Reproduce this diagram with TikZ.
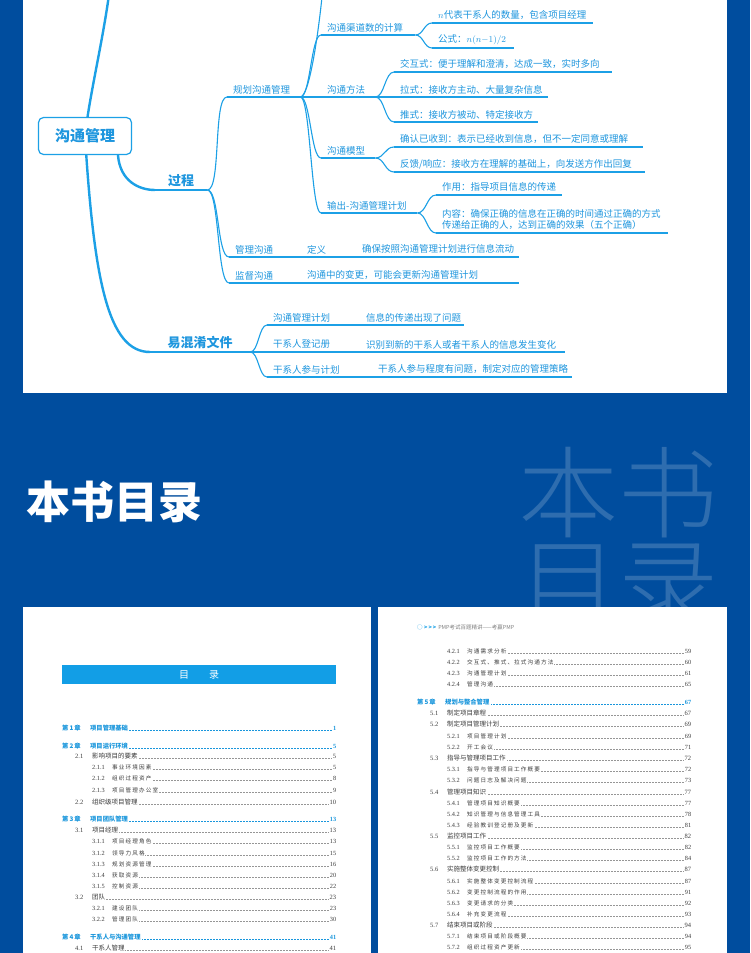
\documentclass[tikz,border=0pt]{standalone}
\usepackage{fontspec}
\usepackage{tikz}
\usetikzlibrary{calc,positioning}
\setmainfont{Noto Sans CJK SC}
\newfontfamily\numfont{Liberation Serif}
\newfontfamily\subfont[LetterSpace=20]{Noto Sans CJK SC}
\IfFontExistsTF{Noto Sans CJK SC Light}{\newfontfamily\wmfont{Noto Sans CJK SC Light}}{\newfontfamily\wmfont{Noto Sans CJK SC}}

\definecolor{bgblue}{RGB}{0,77,158}
\definecolor{mmblue}{RGB}{28,160,230}
\definecolor{mmtext}{RGB}{30,150,222}
\definecolor{barblue}{RGB}{18,158,230}
\definecolor{tocblue}{RGB}{25,150,220}
\definecolor{tocgray}{RGB}{60,60,60}
\definecolor{dotgray}{RGB}{150,150,150}
\colorlet{wmblue}{bgblue!82!white}

\newcommand\leaffont{\fontsize{9.5}{11.5}\selectfont}
\newcommand\headfont{\bfseries\fontsize{13}{15}\selectfont}
\newcommand\rootfont{\bfseries\fontsize{15}{17}\selectfont}
\newcommand\tocdots[1]{{\color{#1}\leaders\hbox to 1.5pt{\hss\rule{0.45pt}{0.45pt}\hss}\hfill}}

\tikzset{
  LineStyle/.style={draw=mmblue, line width=1.1pt},
  TrunkStyle/.style={draw=mmblue, line width=2.4pt},
  LeafStyle/.style={anchor=south west, inner xsep=0pt, inner ysep=3pt,
    text width=#1, align=left, text=mmtext, font=\leaffont,
    execute at begin node={\hspace*{6pt}}},
  HeadStyle/.style={anchor=south west, inner xsep=0pt, inner ysep=3pt,
    text width=#1, align=center, text=mmtext, font=\headfont},
  RootStyle/.style={draw=mmblue, line width=1.2pt, rounded corners=5pt,
    fill=white, minimum width=93pt, minimum height=37pt,
    text=mmtext, font=\rootfont},
  Branch/.style={to path={.. controls +(#1,0) and +(-#1,0) .. (\tikztotarget)}},
  Branch/.default=10,
  TocChap/.style={anchor=west, inner sep=0pt, text width=274pt, text=tocblue,
    font=\bfseries\fontsize{6.3}{8}\selectfont},
  TocSec/.style={anchor=west, inner sep=0pt, text width=261pt, text=tocgray,
    font=\fontsize{6.5}{8}\selectfont},
  TocSub/.style={anchor=west, inner sep=0pt, text width=244pt, text=tocgray,
    font=\fontsize{5.6}{7}\selectfont}
}

\begin{document}
\begin{tikzpicture}[x=1pt,y=-1pt]
  \useasboundingbox (0,0) rectangle (750,953);
  \fill[bgblue] (0,0) rectangle (750,953);
  \fill[white] (23,0) rectangle (727,393);

  % mind map
  \begin{scope}
    \clip (23,0) rectangle (727,393);
    \coordinate (Rc) at (85,136);
    \coordinate (Rtop) at (112,-30);
    \coordinate (P1top) at (324,-25);
    \node[HeadStyle=100pt] (X) at (150,352) {易混淆文件};
    \draw[TrunkStyle] (Rc) .. controls (90,90) and (106,30) .. (Rtop);
    \draw[TrunkStyle] (Rc) .. controls (94,280) and (108,352) .. (X.south west);
    \node[RootStyle] (R) at (Rc) {沟通管理};
    \node[HeadStyle=52pt] (P) at (155,190) {过程};

    \node[LeafStyle=73pt] (P1) at (227,97) {规划沟通管理};
    \node[LeafStyle=94pt] (A) at (321,35) {沟通渠道数的计算};
    \node[LeafStyle=161pt] (A1) at (432,23) {$n$代表干系人的数量，包含项目经理};
    \node[LeafStyle=82pt] (A2) at (432,48) {公式：$n(n{-}1)/2$};
    \node[LeafStyle=54pt] (B) at (321,97) {沟通方法};
    \node[LeafStyle=218pt] (B1) at (394,72) {交互式：便于理解和澄清，达成一致，实时多向};
    \node[LeafStyle=154pt] (B2) at (394,97) {拉式：接收方主动、大量复杂信息};
    \node[LeafStyle=144pt] (B3) at (394,122) {推式：接收方被动、特定接收方};
    \node[LeafStyle=54pt] (C) at (321,158) {沟通模型};
    \node[LeafStyle=249pt] (C1) at (394,147) {确认已收到：表示已经收到信息，但不一定同意或理解};
    \node[LeafStyle=251pt] (C2) at (394,172) {反馈/响应：接收方在理解的基础上，向发送方作出回复};
    \node[LeafStyle=96pt] (D) at (321,213) {输出-沟通管理计划};
    \node[LeafStyle=126pt] (D1) at (436,195) {作用：指导项目信息的传递};
    \node[LeafStyle=232pt] (D2) at (436,233) {内容：确保正确的信息在正确的时间通过正确的方式\\\hspace*{6pt}传递给正确的人，达到正确的效果（五个正确）};
    \node[LeafStyle=72pt] (P2) at (229,257) {管理沟通};
    \node[LeafStyle=55pt] (P2a) at (301,257) {定义};
    \node[LeafStyle=163pt] (P2b) at (356,257) {确保按照沟通管理计划进行信息流动};
    \node[LeafStyle=72pt] (P3) at (229,283) {监督沟通};
    \node[LeafStyle=218pt] (P3a) at (301,283) {沟通中的变更，可能会更新沟通管理计划};
    \node[LeafStyle=93pt] (X1) at (267,325) {沟通管理计划};
    \node[LeafStyle=104pt] (X1a) at (360,325) {信息的传递出现了问题};
    \node[LeafStyle=93pt] (X2) at (267,352) {干系人登记册};
    \node[LeafStyle=205pt] (X2a) at (360,352) {识别到新的干系人或者干系人的信息发生变化};
    \node[LeafStyle=105pt] (X3) at (267,377) {干系人参与计划};
    \node[LeafStyle=200pt] (X3a) at (372,377) {干系人参与程度有问题，制定对应的管理策略};

    % underlines
    \foreach \n in {P,X}
      \draw[TrunkStyle] (\n.south west) -- (\n.south east);
    \foreach \n in {P1,A,A1,A2,B,B1,B2,B3,C,C1,C2,D,D1,D2,P2,P2a,P2b,P3,P3a,X1,X1a,X2,X2a,X3,X3a}
      \draw[LineStyle] (\n.south west) -- (\n.south east);

    % branches
    \draw[TrunkStyle] ($(R.south)!0.7!(R.south east)$) .. controls +(2,26) and +(-16,0) .. (P.south west);
    \draw[LineStyle] (P.south east) to[Branch=14] (P1.south west);
    \draw[LineStyle] (P.south east) to[Branch=12] (P2.south west);
    \draw[LineStyle] (P.south east) to[Branch=12] (P3.south west);
    \draw[LineStyle] (P1.south east) .. controls +(10,0) and +(-3,40) .. (P1top);
    \foreach \c in {A,B,C,D}
      \draw[LineStyle] (P1.south east) to[Branch=10] (\c.south west);
    \foreach \c in {A1,A2}
      \draw[LineStyle] (A.south east) to[Branch=8] (\c.south west);
    \foreach \c in {B1,B2,B3}
      \draw[LineStyle] (B.south east) to[Branch=9] (\c.south west);
    \foreach \c in {C1,C2}
      \draw[LineStyle] (C.south east) to[Branch=9] (\c.south west);
    \foreach \c in {D1,D2}
      \draw[LineStyle] (D.south east) to[Branch=9] (\c.south west);
    \foreach \c in {X1,X2,X3}
      \draw[LineStyle] (X.south east) to[Branch=8] (\c.south west);
  \end{scope}

  % title band
  \begin{scope}
    \clip (23,393) rectangle (727,607);
    \node[anchor=base west, inner sep=0pt, text=wmblue, font=\wmfont\fontsize{100}{110}\selectfont] (W1) at (518,530) {本书};
    \node[anchor=north west, inner sep=0pt, text=wmblue, font=\wmfont\fontsize{100}{110}\selectfont] (W2) at (518,544) {目录};
  \end{scope}
  \node[anchor=west, inner sep=0pt, text=white, font=\bfseries\fontsize{44}{48}\selectfont] (title) at (26,502) {本书目录};

  % pages
  \fill[white] (23,607) rectangle (371,953);
  \fill[white] (378,607) rectangle (727,953);

  \node[fill=barblue, minimum width=274pt, minimum height=19pt, anchor=north west,
    inner sep=0pt, text=white, font=\fontsize{10}{12}\selectfont] (T) at (62,665) {目\hspace{2em}录};

  \foreach \y/\nm/\ti/\pg in {728/1/项目管理基础/1, 746/2/项目运行环境/5, 819/3/项目团队管理/13, 937/4/干系人与沟通管理/41}
    \node[TocChap] (lc\y) at (62,\y) {\makebox[28pt][l]{第\,\nm\,章}\ti\tocdots{tocblue}{\numfont\pg}};
  \foreach \y/\nm/\ti/\pg in {756/2.1/影响项目的要素/5, 802/2.2/组织级项目管理/10, 830/3.1/项目经理/13, 897/3.2/团队/23, 948/4.1/干系人管理/41}
    \node[TocSec] (ls\y) at (75,\y) {\makebox[17pt][l]{\numfont\nm}\ti\tocdots{dotgray}{\numfont\pg}};
  \foreach \y/\nm/\ti/\pg in {767/2.1.1/事业环境因素/5, 778/2.1.2/组织过程资产/8, 790/2.1.3/项目管理办公室/9,
      841/3.1.1/项目经理角色/13, 853/3.1.2/领导力风格/15, 864/3.1.3/规划资源管理/16, 875/3.1.4/获取资源/20,
      886/3.1.5/控制资源/22, 908/3.2.1/建设团队/23, 919/3.2.2/管理团队/30}
    \node[TocSub] (lu\y) at (92,\y) {\makebox[20pt][l]{\numfont\fontsize{6.3}{7}\selectfont\nm}{\subfont\ti}\tocdots{dotgray}{\numfont\fontsize{6.3}{7}\selectfont\pg}};

  \node[anchor=west, inner sep=0pt, text=gray, font=\fontsize{5.5}{6}\selectfont] (hdr) at (417,627)
    {\textcolor{barblue}{○\hspace{1.5pt}\bfseries >\hspace{1pt}>\hspace{1pt}>}\hspace{2pt}PMP考试百题精讲——考赢PMP};
  \foreach \y/\nm/\ti/\pg in {702/5/规划与整合管理/67}
    \node[TocChap] (rc\y) at (417,\y) {\makebox[28pt][l]{第\,\nm\,章}\ti\tocdots{tocblue}{\numfont\pg}};
  \foreach \y/\nm/\ti/\pg in {713/5.1/制定项目章程/67, 724/5.2/制定项目管理计划/69, 758/5.3/指导与管理项目工作/72,
      792/5.4/管理项目知识/77, 836/5.5/监控项目工作/82, 869/5.6/实施整体变更控制/87, 925/5.7/结束项目或阶段/94}
    \node[TocSec] (rs\y) at (430,\y) {\makebox[17pt][l]{\numfont\nm}\ti\tocdots{dotgray}{\numfont\pg}};
  \foreach \y/\nm/\ti/\pg in {651/4.2.1/沟通需求分析/59, 662/4.2.2/交互式、推式、拉式沟通方法/60, 673/4.2.3/沟通管理计划/61,
      684/4.2.4/管理沟通/65, 736/5.2.1/项目管理计划/69, 747/5.2.2/开工会议/71, 769/5.3.1/指导与管理项目工作概要/72,
      780/5.3.2/问题日志及解决问题/73, 803/5.4.1/管理项目知识概要/77, 814/5.4.2/知识管理与信息管理工具/78,
      825/5.4.3/经验教训登记册及更新/81, 847/5.5.1/监控项目工作概要/82, 858/5.5.2/监控项目工作的方法/84,
      881/5.6.1/实施整体变更控制流程/87, 892/5.6.2/变更控制流程的作用/91, 903/5.6.3/变更请求的分类/92,
      914/5.6.4/补充变更流程/93, 936/5.7.1/结束项目或阶段概要/94, 947/5.7.2/组织过程资产更新/95}
    \node[TocSub] (ru\y) at (447,\y) {\makebox[20pt][l]{\numfont\fontsize{6.3}{7}\selectfont\nm}{\subfont\ti}\tocdots{dotgray}{\numfont\fontsize{6.3}{7}\selectfont\pg}};
\end{tikzpicture}
\end{document}
